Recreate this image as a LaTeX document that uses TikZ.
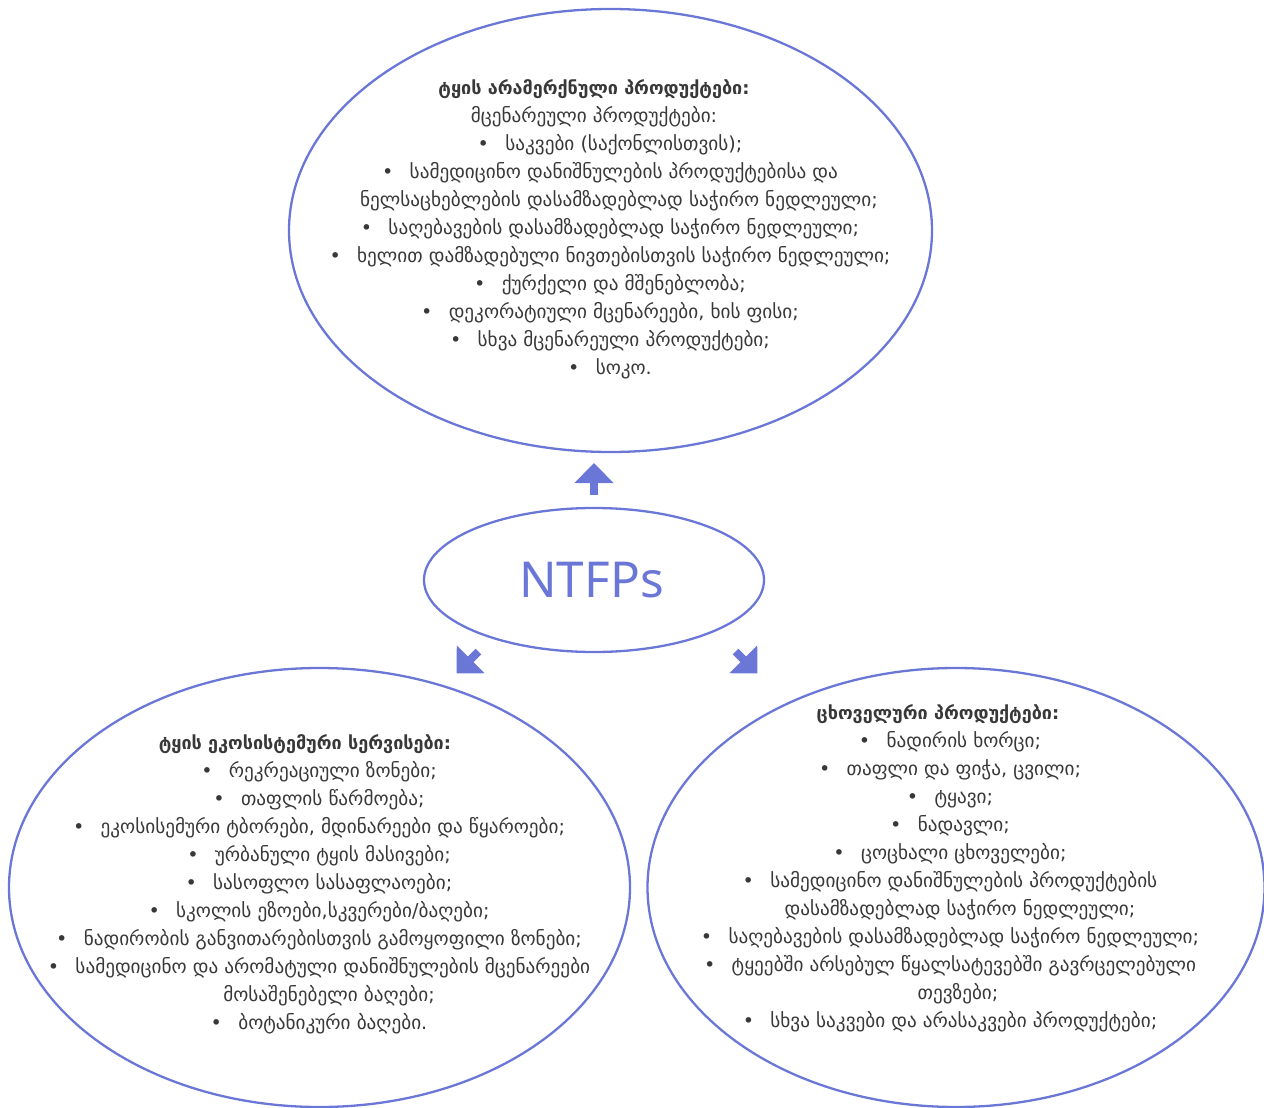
\documentclass[tikz,border=0pt]{standalone}
\usepackage{fontspec}
\setmainfont{DejaVu Sans}
\newfontfamily\ntfont{Noto Sans}
\usetikzlibrary{shapes.geometric,arrows.meta}
\definecolor{ebl}{HTML}{6B77D6}
\definecolor{txt}{HTML}{383838}
\tikzset{
  oval/.style={ellipse, draw=ebl, line width=2.3pt, inner sep=0pt},
  body/.style={align=center, text=txt, font=\fontsize{19.2}{28}\selectfont, inner sep=0pt},
  fat/.style={draw=ebl, line width=8pt, -{Triangle[width=38pt,length=20pt]}},
}
\newcommand{\bl}{\textbullet\hspace{0.85em}}
\newcommand{\ttl}[1]{{\fontsize{18}{28}\selectfont\bfseries #1}}
\newcommand{\sh}[1]{\hspace*{#1}}
\begin{document}
\begin{tikzpicture}[x=1pt,y=-1pt]
\useasboundingbox (0,0) rectangle (1264,1108);
% ellipses
\node[oval, minimum width=643pt, minimum height=443pt] (top) at (610.5,230.5) {};
\node[oval, minimum width=340pt, minimum height=144pt] (mid) at (594,580) {};
\node[oval, minimum width=621pt, minimum height=439pt] (bl) at (319.5,887.5) {};
\node[oval, minimum width=617pt, minimum height=439pt] (br) at (956,887.5) {};
% center label
\node[text=ebl, font=\ntfont\fontsize{49.5}{60}\selectfont, inner sep=0pt] (ntfp) at (591.5,580) {NTFPs};
% texts
\node[body] (ttop) at (610,229) {%
\sh{-32pt}\ttl{ტყის არამერქნული პროდუქტები:}\\
\sh{-32pt}მცენარეული პროდუქტები:\\
\bl საკვები (საქონლისთვის);\\
\bl სამედიცინო დანიშნულების პროდუქტებისა და\\
\sh{18pt}ნელსაცხებლების დასამზადებლად საჭირო ნედლეული;\\
\bl საღებავების დასამზადებლად საჭირო ნედლეული;\\
\bl ხელით დამზადებული ნივთებისთვის საჭირო ნედლეული;\\
\bl ქურქელი და მშენებლობა;\\
\bl დეკორატიული მცენარეები, ხის ფისი;\\
\bl სხვა მცენარეული პროდუქტები;\\
\bl სოკო.};
\node[body] (tbl) at (319,884.5) {%
\sh{-28pt}\ttl{ტყის ეკოსისტემური სერვისები:}\\
\bl რეკრეაციული ზონები;\\
\bl თაფლის წარმოება;\\
\bl ეკოსისემური ტბორები, მდინარეები და წყაროები;\\
\bl ურბანული ტყის მასივები;\\
\bl სასოფლო სასაფლაოები;\\
\bl სკოლის ეზოები,სკვერები/ბაღები;\\
\bl ნადირობის განვითარებისთვის გამოყოფილი ზონები;\\
\bl სამედიცინო და არომატული დანიშნულების მცენარეები\\
\sh{20pt}მოსაშენებელი ბაღები;\\
\bl ბოტანიკური ბაღები.};
\node[body] (tbr) at (950,868.5) {%
\sh{-24pt}\ttl{ცხოველური პროდუქტები:}\\
\bl ნადირის ხორცი;\\
\bl თაფლი და ფიჭა, ცვილი;\\
\bl ტყავი;\\
\bl ნადავლი;\\
\bl ცოცხალი ცხოველები;\\
\bl სამედიცინო დანიშნულების პროდუქტების\\
\sh{20pt}დასამზადებლად საჭირო ნედლეული;\\
\bl საღებავების დასამზადებლად საჭირო ნედლეული;\\
\bl ტყეებში არსებულ წყალსატევებში გავრცელებული\\
\sh{16pt}თევზები;\\
\bl სხვა საკვები და არასაკვები პროდუქტები;};
% arrows
\coordinate (upS) at (594,495);
\coordinate (upT) at (594,463);
\coordinate (dlS) at (478.5,651.5);
\coordinate (dlT) at (456.5,673.5);
\coordinate (drS) at (735.5,651.5);
\coordinate (drT) at (757.5,673.5);
\draw[fat] (upS) -- (upT);
\draw[fat] (dlS) -- (dlT);
\draw[fat] (drS) -- (drT);
\end{tikzpicture}
\end{document}
